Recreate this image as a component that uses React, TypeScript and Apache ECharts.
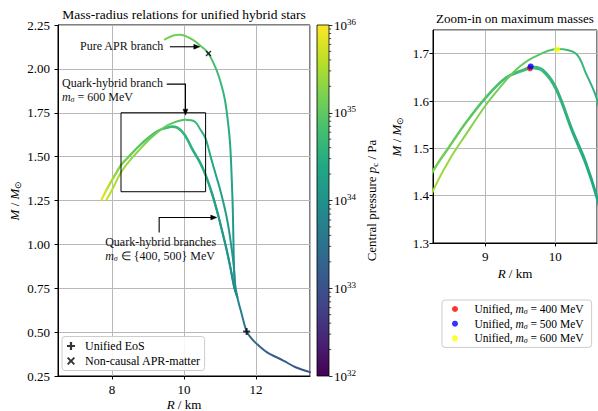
import React, { useEffect, useRef } from 'react';
import * as echarts from 'echarts';

// ---------------- data ----------------
// Pure APR branch (R in km, M in solar masses, log10 of central pressure in Pa)
const APR_R = [13.5, 13.1, 12.76, 12.3, 11.97, 11.85, 11.74, 11.6, 11.48, 11.41, 11.385, 11.37, 11.355, 11.33, 11.3, 11.27, 11.22, 11.14, 11.05, 10.91, 10.68, 10.49, 10.26, 9.89, 9.7, 9.47];
const APR_M = [0.272, 0.3, 0.338, 0.386, 0.443, 0.47, 0.504, 0.605, 0.7, 0.79, 0.9, 1.05, 1.2, 1.35, 1.5, 1.6, 1.7, 1.82, 1.9, 1.99, 2.088, 2.126, 2.164, 2.195, 2.19, 2.168];
const APR_LOGP = [33.0, 33.05, 33.12, 33.22, 33.35, 33.42, 33.52, 33.68, 33.8, 33.88, 33.98, 34.08, 34.2, 34.3, 34.38, 34.44, 34.5, 34.58, 34.66, 34.75, 34.88, 34.96, 35.05, 35.12, 35.16, 35.2];

// Quark-hybrid branch m_sigma = 400 MeV
const H400_R = [11.48, 11.4, 11.35, 11.28, 11.18, 11.05, 10.94, 10.78, 10.6, 10.44, 10.25, 10.01, 9.82, 9.652, 9.581, 9.295, 9.0, 8.72, 8.486, 8.247, 8.1, 7.9, 7.71];
const H400_M = [0.7, 0.75, 0.8, 0.875, 0.97, 1.08, 1.17, 1.285, 1.392, 1.465, 1.532, 1.624, 1.663, 1.669, 1.666, 1.648, 1.605, 1.553, 1.503, 1.45, 1.4, 1.33, 1.255];
const H400_LOGP = [33.85, 33.9, 33.95, 34.0, 34.07, 34.15, 34.22, 34.3, 34.38, 34.45, 34.52, 34.6, 34.66, 34.7, 34.72, 34.8, 34.9, 35.0, 35.1, 35.2, 35.35, 35.6, 35.9];

// Quark-hybrid branch m_sigma = 500 MeV
const H500_R = [11.48, 11.4, 11.35, 11.28, 11.18, 11.05, 10.94, 10.78, 10.6, 10.44, 10.25, 10.01, 9.82, 9.652, 9.581, 9.295, 9.0, 8.72, 8.486, 8.247, 8.1, 7.9, 7.71];
const H500_M = [0.7, 0.752, 0.803, 0.879, 0.975, 1.086, 1.177, 1.292, 1.399, 1.472, 1.539, 1.63, 1.667, 1.673, 1.669, 1.65, 1.607, 1.555, 1.505, 1.452, 1.402, 1.332, 1.257];
const H500_LOGP = [33.85, 33.9, 33.95, 34.0, 34.07, 34.15, 34.22, 34.3, 34.38, 34.45, 34.52, 34.6, 34.66, 34.7, 34.72, 34.8, 34.9, 35.0, 35.1, 35.2, 35.35, 35.6, 35.9];

// Quark-hybrid branch m_sigma = 600 MeV
const H600_R = [11.41, 11.38, 11.32, 11.25, 11.18, 11.08, 10.98, 10.9, 10.74, 10.6, 10.44, 10.3, 10.03, 9.676, 9.44, 9.24, 9.0, 8.72, 8.486, 8.247, 8.0, 7.85];
const H600_M = [0.79, 0.88, 0.98, 1.08, 1.16, 1.25, 1.33, 1.385, 1.5, 1.603, 1.659, 1.7, 1.71, 1.691, 1.666, 1.634, 1.59, 1.529, 1.476, 1.409, 1.31, 1.255];
const H600_LOGP = [34.0, 34.03, 34.07, 34.12, 34.17, 34.22, 34.28, 34.32, 34.42, 34.52, 34.6, 34.68, 34.85, 34.98, 35.05, 35.12, 35.2, 35.3, 35.38, 35.45, 35.55, 35.65];

// Special points
const UNIFIED_R = [11.74];
const UNIFIED_M = [0.504];
const NONCAUSAL_R = [10.68];
const NONCAUSAL_M = [2.088];
const MAX_R = [9.64, 9.65, 10.03];
const MAX_M = [1.669, 1.673, 1.709];
const MAX_NAMES = ['Unified, 400 MeV', 'Unified, 500 MeV', 'Unified, 600 MeV'];
const MAX_MSIGMA = ['400', '500', '600'];
const MAX_COLORS = ['#ff0000', '#0000ff', '#ffff00'];

// Axis ranges
const MAIN_R = [6.5, 13.5];
const MAIN_M = [0.25, 2.25];
const ZOOM_R = [8.25, 10.6];
const ZOOM_M = [1.3, 1.75];
const P_RANGE = [32, 36];
const CB_MINOR: number[] = [];
for (let n = P_RANGE[0]; n < P_RANGE[1]; n++) for (let k = 2; k <= 9; k++) CB_MINOR.push(n + Math.log10(k));

// Annotations (data coordinates)
const ARROW_PATHS = [
  [[9.61, 2.126], [10.44, 2.126]],
  [[9.52, 1.913], [10.04, 1.913], [10.04, 1.736]],
  [[9.31, 1.067], [9.31, 1.153], [10.91, 1.153]],
];
const ANNOT_R = [7.11, 6.61, 7.81];
const ANNOT_M = [2.17, 1.962, 1.055];
const ANNOT_TEXT = [
  'Pure APR branch',
  'Quark-hybrid branch\n{i|m}{sub|σ} = 600 MeV',
  'Quark-hybrid branches\n{i|m}{sub|σ} ∈ {400, 500} MeV',
];

// ---------------- styling ----------------
const FONT = 'Liberation Serif';
const GRID_C = '#b8b8b8';
const VIRIDIS = ['#440154', '#482475', '#414487', '#355f8d', '#2a788e', '#21918c', '#22a884', '#44bf70', '#7ad151', '#bddf26', '#fde725'];
const PLUS_PATH = 'path://M3.6,0H6.4V3.6H10V6.4H6.4V10H3.6V6.4H0V3.6H3.6Z';
const CROSS_PATH = 'path://M0,1.7L1.7,0L5,3.3L8.3,0L10,1.7L6.7,5L10,8.3L8.3,10L5,6.7L1.7,10L0,8.3L3.3,5Z';

function hexToRgb(h: string) {
  const v = parseInt(h.slice(1), 16);
  return [(v >> 16) & 255, (v >> 8) & 255, v & 255];
}
function viridis(t: number) {
  const tt = Math.max(0, Math.min(1, t)) * (VIRIDIS.length - 1);
  const i = Math.min(VIRIDIS.length - 2, Math.floor(tt));
  const f = tt - i;
  const a = hexToRgb(VIRIDIS[i]);
  const b = hexToRgb(VIRIDIS[i + 1]);
  const c = a.map((x, k) => Math.round(x + (b[k] - x) * f));
  return `rgb(${c[0]},${c[1]},${c[2]})`;
}

function richOpt(size: number) {
  return {
    i: { fontFamily: FONT, fontSize: size, fontStyle: 'italic', color: '#000' },
    n: { fontFamily: FONT, fontSize: size, color: '#000' },
    sub: { fontFamily: FONT, fontSize: Math.round(size * 0.68), fontStyle: 'italic', color: '#000', padding: [Math.round(size * 0.45), 0, 0, 0] },
    subu: { fontFamily: FONT, fontSize: Math.round(size * 0.68), color: '#000', padding: [Math.round(size * 0.45), 0, 0, 0] },
    sup: { fontFamily: FONT, fontSize: Math.round(size * 0.68), color: '#000', padding: [0, 0, Math.round(size * 0.55), 0] },
  };
}
function richZr(size: number) {
  return {
    i: { fontFamily: FONT, fontSize: size, fontStyle: 'italic', fill: '#111' },
    sub: { fontFamily: FONT, fontSize: Math.round(size * 0.68), fontStyle: 'italic', fill: '#111', padding: [Math.round(size * 0.45), 0, 0, 0] },
  };
}

const CURVES = [
  { id: 'apr', R: APR_R, M: APR_M, P: APR_LOGP, grids: [0] },
  { id: 'h400', R: H400_R, M: H400_M, P: H400_LOGP, grids: [0, 1] },
  { id: 'h500', R: H500_R, M: H500_M, P: H500_LOGP, grids: [0, 1] },
  { id: 'h600', R: H600_R, M: H600_M, P: H600_LOGP, grids: [0, 1] },
];

function valueAxis(grid: number, min: number, max: number, extra: any) {
  return {
    gridIndex: grid,
    type: 'value',
    min,
    max,
    nameMoveOverlap: false,
    axisLine: { show: true, onZero: false, lineStyle: { color: '#000', width: 1 } },
    axisTick: { show: true, length: 3.5, lineStyle: { color: '#000', width: 1 } },
    splitLine: { show: true, lineStyle: { color: GRID_C, width: 1 } },
    axisLabel: { color: '#000', fontFamily: FONT, fontSize: 13 },
    ...extra,
  };
}

function buildOption(): any {
  const series: any[] = [];
  CURVES.forEach((c) => {
    c.grids.forEach((g) => {
      series.push({
        id: c.id + '_' + g,
        type: 'line',
        xAxisIndex: g,
        yAxisIndex: g,
        data: c.R.map((r, i) => [r, c.M[i]]),
        smooth: 0.35,
        showSymbol: false,
        symbol: 'none',
        clip: true,
        silent: true,
        z: 3,
        lineStyle: { width: 2, color: '#21918c', cap: 'round', join: 'round' },
        emphasis: { disabled: true },
      });
    });
  });
  series.push({
    name: 'Unified EoS',
    type: 'scatter',
    xAxisIndex: 0,
    yAxisIndex: 0,
    data: UNIFIED_R.map((r, i) => [r, UNIFIED_M[i]]),
    symbol: PLUS_PATH,
    symbolSize: 7,
    itemStyle: { color: '#000' },
    z: 10,
    silent: true,
  });
  series.push({
    name: 'Non-causal APR-matter',
    type: 'scatter',
    xAxisIndex: 0,
    yAxisIndex: 0,
    data: NONCAUSAL_R.map((r, i) => [r, NONCAUSAL_M[i]]),
    symbol: CROSS_PATH,
    symbolSize: 6,
    itemStyle: { color: '#000' },
    z: 10,
    silent: true,
  });
  MAX_NAMES.forEach((name, i) => {
    series.push({
      name,
      type: 'scatter',
      xAxisIndex: 1,
      yAxisIndex: 1,
      data: [[MAX_R[i], MAX_M[i]]],
      symbol: 'circle',
      symbolSize: 6,
      itemStyle: { color: MAX_COLORS[i] },
      z: 10,
      silent: true,
    });
  });
  // zoom rectangle
  series.push({
    type: 'custom',
    xAxisIndex: 0,
    yAxisIndex: 0,
    clip: false,
    silent: true,
    z: 6,
    data: [[ZOOM_R[0], ZOOM_M[0], ZOOM_R[1], ZOOM_M[1]]],
    encode: { x: [0, 2], y: [1, 3] },
    renderItem: (params: any, api: any) => {
      const p0 = api.coord([api.value(0), api.value(1)]);
      const p1 = api.coord([api.value(2), api.value(3)]);
      return {
        type: 'rect',
        shape: { x: p0[0], y: p1[1], width: p1[0] - p0[0], height: p0[1] - p1[1] },
        style: { fill: null, stroke: '#000', lineWidth: 1 },
      };
    },
  });
  // arrows
  series.push({
    type: 'custom',
    xAxisIndex: 0,
    yAxisIndex: 0,
    clip: false,
    silent: true,
    z: 7,
    data: ARROW_PATHS.map((p) => p[p.length - 1]),
    renderItem: (params: any, api: any) => {
      const pts = ARROW_PATHS[params.dataIndex].map((p) => api.coord(p));
      const n = pts.length;
      const [x1, y1] = pts[n - 2];
      const [x2, y2] = pts[n - 1];
      const L = Math.hypot(x2 - x1, y2 - y1);
      const ux = (x2 - x1) / L;
      const uy = (y2 - y1) / L;
      const hl = 6;
      const hw = 2.4;
      const bx = x2 - ux * hl;
      const by = y2 - uy * hl;
      const line = pts.slice(0, n - 1).concat([[bx + ux * 1, by + uy * 1]]);
      const head = [[x2, y2], [bx - uy * hw, by + ux * hw], [bx + uy * hw, by - ux * hw]];
      return {
        type: 'group',
        children: [
          { type: 'polyline', shape: { points: line }, style: { stroke: '#000', lineWidth: 1.1, fill: null } },
          { type: 'polygon', shape: { points: head }, style: { fill: '#000', stroke: '#000', lineWidth: 0.5 } },
        ],
      };
    },
  });
  // annotation texts
  series.push({
    type: 'custom',
    xAxisIndex: 0,
    yAxisIndex: 0,
    clip: false,
    silent: true,
    z: 7,
    data: ANNOT_R.map((r, i) => [r, ANNOT_M[i]]),
    renderItem: (params: any, api: any) => {
      const p = api.coord([api.value(0), api.value(1)]);
      return {
        type: 'text',
        x: p[0],
        y: p[1],
        style: {
          text: ANNOT_TEXT[params.dataIndex],
          fontFamily: FONT,
          fontSize: 12,
          fill: '#111',
          align: 'left',
          verticalAlign: 'top',
          lineHeight: 14.5,
          rich: richZr(12),
        },
      };
    },
  });
  // colorbar
  series.push({
    type: 'custom',
    xAxisIndex: 2,
    yAxisIndex: 2,
    clip: false,
    silent: true,
    z: 2,
    data: [[0, P_RANGE[0]]],
    renderItem: (params: any, api: any) => {
      const p0 = api.coord([0, P_RANGE[0]]);
      const p1 = api.coord([1, P_RANGE[1]]);
      return {
        type: 'rect',
        shape: { x: p0[0], y: p1[1], width: p1[0] - p0[0], height: p0[1] - p1[1] },
        style: {
          fill: new echarts.graphic.LinearGradient(0, 1, 0, 0, VIRIDIS.map((c, i) => ({ offset: i / (VIRIDIS.length - 1), color: c }))),
          stroke: '#000',
          lineWidth: 0.8,
        },
      };
    },
  });
  series.push({
    type: 'custom',
    xAxisIndex: 2,
    yAxisIndex: 2,
    clip: false,
    silent: true,
    z: 3,
    data: CB_MINOR.map((v) => [1, v]),
    renderItem: (params: any, api: any) => {
      const p = api.coord([1, api.value(1)]);
      return { type: 'line', shape: { x1: p[0], y1: p[1], x2: p[0] + 2.2, y2: p[1] }, style: { stroke: '#000', lineWidth: 0.7 } };
    },
  });

  return {
    animation: false,
    backgroundColor: '#fff',
    textStyle: { fontFamily: FONT },
    grid: [
      { left: 58, top: 25, width: 252, height: 351, show: true, borderColor: '#000', borderWidth: 1, backgroundColor: 'transparent', containLabel: false, outerBoundsMode: 'none' },
      { left: 433, top: 30, width: 164, height: 213, show: true, borderColor: '#000', borderWidth: 1, backgroundColor: 'transparent', containLabel: false, outerBoundsMode: 'none' },
      { left: 317, top: 25, width: 12, height: 351, show: false, containLabel: false, outerBoundsMode: 'none' },
    ],
    xAxis: [
      valueAxis(0, MAIN_R[0], MAIN_R[1], {
        splitNumber: 4,
        axisLabel: { color: '#000', fontFamily: FONT, fontSize: 13, margin: 7, showMinLabel: false, showMaxLabel: false },
        name: '{i|R} / km',
        nameLocation: 'middle',
        nameGap: 22,
        nameTextStyle: { fontFamily: FONT, fontSize: 13, color: '#000', rich: richOpt(13) },
      }),
      valueAxis(1, ZOOM_R[0], ZOOM_R[1], {
        splitNumber: 2,
        axisLabel: { color: '#000', fontFamily: FONT, fontSize: 13, margin: 7, showMinLabel: false, showMaxLabel: false },
        name: '{i|R} / km',
        nameLocation: 'middle',
        nameGap: 24,
        nameTextStyle: { fontFamily: FONT, fontSize: 13, color: '#000', rich: richOpt(13) },
      }),
      { gridIndex: 2, type: 'value', min: 0, max: 1, show: false },
    ],
    yAxis: [
      valueAxis(0, MAIN_M[0], MAIN_M[1], {
        interval: 0.25,
        axisLabel: { color: '#000', fontFamily: FONT, fontSize: 13, margin: 8, formatter: (v: number) => v.toFixed(2) },
        name: '{i|M} / {i|M}{subu|⊙}',
        nameLocation: 'middle',
        nameRotate: 90,
        nameGap: 36,
        nameTextStyle: { fontFamily: FONT, fontSize: 13, color: '#000', rich: richOpt(13) },
      }),
      valueAxis(1, ZOOM_M[0], ZOOM_M[1], {
        interval: 0.1,
        axisLabel: { color: '#000', fontFamily: FONT, fontSize: 13, margin: 4, showMaxLabel: false, formatter: (v: number) => v.toFixed(1) },
        name: '{i|M} / {i|M}{subu|⊙}',
        nameLocation: 'middle',
        nameRotate: 90,
        nameGap: 29,
        nameTextStyle: { fontFamily: FONT, fontSize: 13, color: '#000', rich: richOpt(13) },
      }),
      {
        gridIndex: 2,
        type: 'value',
        min: P_RANGE[0],
        max: P_RANGE[1],
        interval: 1,
        position: 'right',
        nameMoveOverlap: false,
        axisLine: { show: false, onZero: false },
        axisTick: { show: true, length: 3.5, lineStyle: { color: '#000', width: 0.8 } },
        splitLine: { show: false },
        axisLabel: {
          margin: 5,
          color: '#000',
          fontFamily: FONT,
          fontSize: 13,
          formatter: (v: number) => `{b|10}{sup|${v}}`,
          rich: { b: { fontFamily: FONT, fontSize: 13, color: '#000' }, sup: richOpt(13).sup },
        },
        name: 'Central pressure {i|p}{subu|c} / Pa',
        nameLocation: 'middle',
        nameRotate: 90,
        nameGap: 35,
        nameTextStyle: { fontFamily: FONT, fontSize: 13, color: '#000', rich: richOpt(13) },
      },
    ],
    legend: [
      {
        left: 62,
        top: 336.5,
        orient: 'vertical',
        selectedMode: false,
        data: [
          { name: 'Unified EoS', icon: PLUS_PATH },
          { name: 'Non-causal APR-matter', icon: CROSS_PATH },
        ],
        itemWidth: 18,
        itemHeight: 8,
        itemGap: 2,
        padding: [3, 4, 3, 5],
        borderColor: '#cccccc',
        borderWidth: 1,
        borderRadius: 3,
        backgroundColor: 'rgba(255,255,255,0.85)',
        textStyle: { fontFamily: FONT, fontSize: 12, color: '#000', lineHeight: 13 },
      },
      {
        left: 442,
        top: 300,
        orient: 'vertical',
        selectedMode: false,
        data: MAX_NAMES.map((n) => ({ name: n, icon: 'circle' })),
        itemWidth: 29,
        itemHeight: 6,
        itemGap: 1.7,
        padding: [2.5, 8, 2.5, 10],
        borderColor: '#cccccc',
        borderWidth: 1,
        borderRadius: 3,
        backgroundColor: 'rgba(255,255,255,0.85)',
        formatter: (name: string) => {
          const i = MAX_NAMES.indexOf(name);
          return `Unified, {i|m}{sub|σ} = ${MAX_MSIGMA[i]} MeV`;
        },
        textStyle: { fontFamily: FONT, fontSize: 11.5, color: '#000', lineHeight: 13, rich: richOpt(11.5) },
      },
    ],
    graphic: [
      {
        type: 'text',
        x: 184,
        y: 14,
        silent: true,
        style: { text: 'Mass-radius relations for unified hybrid stars', fontFamily: FONT, fontSize: 13.5, fill: '#000', align: 'center', verticalAlign: 'middle' },
      },
      {
        type: 'text',
        x: 515,
        y: 18.5,
        silent: true,
        style: { text: 'Zoom-in on maximum masses', fontFamily: FONT, fontSize: 13, fill: '#000', align: 'center', verticalAlign: 'middle' },
      },
    ],
    series,
  };
}

function makeGradient(chart: any, R: number[], P: number[], gridIndex: number) {
  const rmin = Math.min(...R);
  const rmax = Math.max(...R);
  const yRef = gridIndex === 0 ? MAIN_M[0] : ZOOM_M[0];
  const a = chart.convertToPixel({ gridIndex }, [rmin, yRef]);
  const b = chart.convertToPixel({ gridIndex }, [rmax, yRef]);
  const stops = R.map((r, i) => ({
    offset: (r - rmin) / (rmax - rmin),
    color: viridis((P[i] - P_RANGE[0]) / (P_RANGE[1] - P_RANGE[0])),
  })).sort((s, t) => s.offset - t.offset);
  return new echarts.graphic.LinearGradient(a[0], 0, b[0], 0, stops, true);
}

export default function App() {
  const ref = useRef<HTMLDivElement>(null);
  useEffect(() => {
    if (!ref.current) return;
    const chart = echarts.init(ref.current, null, { renderer: 'svg' });
    chart.setOption(buildOption());
    const upd: any[] = [];
    CURVES.forEach((c) => {
      c.grids.forEach((g) => {
        upd.push({ id: c.id + '_' + g, lineStyle: { width: 2, color: makeGradient(chart, c.R, c.P, g) } });
      });
    });
    chart.setOption({ series: upd });
    return () => chart.dispose();
  }, []);
  return <div ref={ref} style={{ position: 'fixed', left: 0, top: 0, width: 598, height: 411, background: '#fff' }} />;
}
